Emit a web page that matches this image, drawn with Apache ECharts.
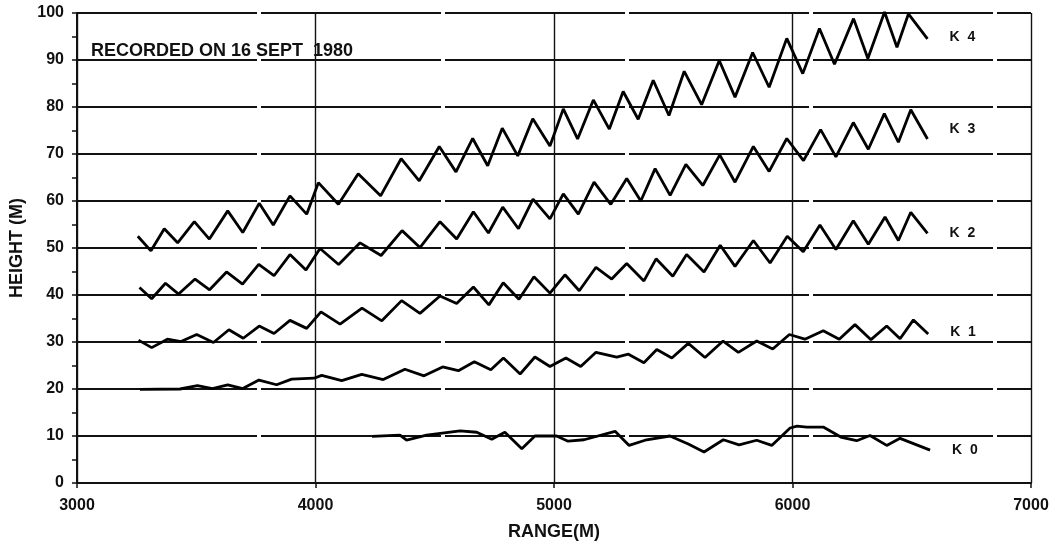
<!DOCTYPE html>
<html>
<head>
<meta charset="utf-8">
<script src="https://cdn.jsdelivr.net/npm/echarts@6/dist/echarts.min.js"></script>
<style>html,body{margin:0;padding:0;background:#fff}#c{width:1058px;height:546px}</style>
</head>
<body>
<div id="c"></div>
<script>
const xTicks = [3000, 4000, 5000, 6000, 7000];
const yTicks = [0, 10, 20, 30, 40, 50, 60, 70, 80, 90, 100];
const seriesNames = ['K  4', 'K  3', 'K  2', 'K  1', 'K  0'];

const k4Range = [3255,3310,3366,3422,3492,3555,3632,3695,3764,3823,3893,3963,4012,4096,4179,4273,4359,4435,4519,4589,4659,4722,4783,4848,4911,4983,5039,5099,5165,5232,5290,5353,5416,5482,5546,5619,5693,5759,5833,5902,5976,6043,6113,6176,6256,6316,6386,6438,6486,6566];
const k4Height = [52.5,49.4,54.1,51.1,55.6,51.9,57.9,53.3,59.5,54.9,61.1,57.2,63.9,59.3,65.8,61.1,69.0,64.3,71.6,66.2,73.3,67.5,75.5,69.6,77.5,71.7,79.6,73.2,81.5,75.3,83.3,77.4,85.7,78.2,87.6,80.5,89.9,82.1,91.6,84.2,94.6,87.1,96.7,89.1,98.8,90.3,100.2,92.7,99.8,94.5];

const k3Range = [3262,3313,3371,3426,3495,3556,3627,3694,3762,3826,3893,3960,4019,4097,4187,4275,4363,4438,4522,4592,4662,4725,4785,4851,4912,4983,5039,5102,5168,5238,5305,5364,5424,5487,5553,5624,5695,5759,5836,5902,5976,6046,6118,6182,6255,6318,6385,6444,6496,6566];
const k3Height = [41.6,39.2,42.5,40.2,43.4,41.1,44.9,42.3,46.5,44.1,48.6,45.3,49.9,46.5,51.1,48.4,53.7,50.1,55.6,51.9,57.7,53.2,58.7,54.1,60.4,56.2,61.5,57.2,64.0,59.3,64.8,60.0,66.9,61.2,67.8,63.3,69.8,64.0,71.6,66.3,73.3,68.6,75.2,69.4,76.7,71.0,78.6,72.5,79.4,73.2];

const k2Range = [3258,3313,3379,3436,3502,3572,3637,3697,3764,3826,3893,3963,4023,4103,4195,4278,4361,4438,4522,4592,4662,4727,4787,4853,4916,4983,5046,5106,5176,5242,5305,5377,5428,5498,5556,5629,5697,5759,5836,5906,5978,6045,6115,6182,6255,6318,6388,6444,6496,6566];
const k2Height = [30.4,28.8,30.6,30.1,31.6,29.9,32.6,30.8,33.4,31.8,34.6,32.9,36.4,33.8,37.2,34.5,38.8,36.1,39.8,38.2,41.7,37.9,42.6,39.1,43.9,40.4,44.3,40.9,45.9,43.4,46.7,43.0,47.7,44.0,48.6,44.9,50.6,46.1,51.6,46.8,52.5,49.2,54.9,49.7,55.8,50.8,56.6,51.6,57.6,53.1];

const k1Range = [3264,3432,3505,3568,3632,3695,3763,3837,3900,3994,4026,4110,4194,4284,4375,4455,4533,4599,4666,4735,4788,4858,4920,4983,5050,5112,5176,5263,5312,5377,5431,5494,5563,5633,5709,5773,5850,5917,5987,6052,6129,6196,6262,6329,6395,6451,6507,6569];
const k1Height = [19.9,20.0,20.7,20.1,20.9,20.1,21.9,20.9,22.1,22.3,22.9,21.8,23.1,22.0,24.2,22.8,24.7,23.9,25.8,24.1,26.6,23.2,26.8,24.8,26.6,24.8,27.8,26.8,27.4,25.6,28.4,26.6,29.7,26.7,30.2,27.8,30.2,28.5,31.6,30.6,32.4,30.6,33.7,30.5,33.4,30.7,34.7,31.7];

const k0Range = [4237,4354,4382,4466,4606,4676,4739,4794,4865,4920,5011,5059,5126,5256,5315,5382,5486,5563,5629,5710,5776,5850,5913,5990,6019,6060,6129,6206,6269,6325,6395,6451,6577];
const k0Height = [9.9,10.2,9.1,10.2,11.1,10.8,9.3,10.8,7.3,10.0,10.0,8.9,9.2,11.0,8.0,9.1,10.0,8.3,6.6,9.2,8.1,9.1,8.0,11.7,12.1,11.9,11.9,9.7,9.0,10.1,8.0,9.5,7.0];

const labelOffsets = [[0,-2],[0,-10],[0,0],[0,-2],[0,0]];

function zip(a, b) { return a.map((v, i) => [v, b[i]]); }
const allData = [zip(k4Range,k4Height), zip(k3Range,k3Height), zip(k2Range,k2Height), zip(k1Range,k1Height), zip(k0Range,k0Height)];

const FONT = 'Liberation Sans, Arial, sans-serif';
const chart = echarts.init(document.getElementById('c'), null, {renderer: 'canvas'});
chart.setOption({
  animation: false,
  backgroundColor: '#ffffff',
  title: {
    text: 'RECORDED ON 16 SEPT  1980',
    left: 86, top: 37,
    textStyle: {fontFamily: FONT, fontSize: 18, fontWeight: 'bold', color: '#111'}
  },
  grid: {left: 77, right: 27, top: 13, bottom: 63, containLabel: false},
  xAxis: {
    type: 'value', min: xTicks[0], max: xTicks[xTicks.length-1], interval: 1000,
    name: 'RANGE(M)', nameLocation: 'middle', nameGap: 40,
    nameTextStyle: {fontFamily: FONT, fontSize: 18, fontWeight: 'bold', color: '#111'},
    axisLine: {show: true, lineStyle: {color: '#111', width: 2}},
    axisTick: {show: true, length: 5, lineStyle: {color: '#111', width: 1.5}},
    axisLabel: {fontFamily: FONT, fontSize: 16, fontWeight: 'bold', color: '#111', margin: 15,
      formatter: v => String(v)},
    splitLine: {show: true, lineStyle: {color: '#111', width: 1.4}}
  },
  yAxis: {
    type: 'value', min: yTicks[0], max: yTicks[yTicks.length-1], interval: 10,
    name: 'HEIGHT (M)', nameLocation: 'middle', nameGap: 50, nameRotate: 90,
    nameTextStyle: {fontFamily: FONT, fontSize: 18, fontWeight: 'bold', color: '#111'},
    axisLine: {show: true, lineStyle: {color: '#111', width: 2}},
    axisTick: {show: true, length: 5, lineStyle: {color: '#111', width: 1.5}},
    minorTick: {show: true, splitNumber: 2, length: 5, lineStyle: {color: '#111', width: 1.5}},
    axisLabel: {fontFamily: FONT, fontSize: 16, fontWeight: 'bold', color: '#111', margin: 13,
      formatter: v => String(v)},
    splitLine: {show: true, lineStyle: {color: '#111', width: 2, type: [180, 4]}}
  },
  series: allData.map((d, i) => ({
    name: seriesNames[i],
    type: 'line',
    data: d,
    showSymbol: false,
    symbol: 'none',
    clip: false,
    lineStyle: {color: '#000', width: 2.8},
    endLabel: {
      show: true, formatter: seriesNames[i], distance: 22, offset: labelOffsets[i],
      fontFamily: FONT, fontSize: 14, fontWeight: 'bold', color: '#111'
    }
  }))
});
</script>
</body>
</html>
